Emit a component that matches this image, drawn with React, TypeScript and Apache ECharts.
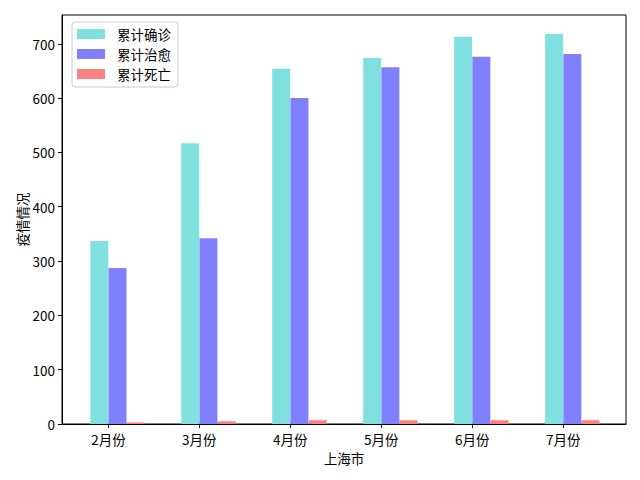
import React, { useEffect, useRef } from "react";
import * as echarts from "echarts";

const categories = ["2月份", "3月份", "4月份", "5月份", "6月份", "7月份"];
const confirmed = [337, 517, 654, 674, 713, 718];
const cured = [287, 342, 600, 657, 676, 681];
const deaths = [3, 5, 7, 7, 7, 7];
const yTicks = [0, 100, 200, 300, 400, 500, 600, 700];
const seriesNames = ["累计确诊", "累计治愈", "累计死亡"];
const colors = ["#80DFDF", "#8080FF", "#FF8080"];
const offsets = [-0.1, 0.1, 0.3];

const FONT = "'Noto Sans CJK SC', sans-serif";

export default function App() {
  const ref = useRef<HTMLDivElement>(null);
  useEffect(() => {
    document.body.style.margin = "0";
    if (!ref.current) return;
    const chart = echarts.init(ref.current, null, { renderer: "svg" });
    const tickIdx = categories.map((_, i) => i);
    const all = [confirmed, cured, deaths];
    chart.setOption({
      animation: false,
      textStyle: { fontFamily: FONT },
      grid: {
        left: 62,
        right: 14,
        top: 15,
        bottom: 56,
        show: true,
        borderColor: "#000",
        borderWidth: 1,
        backgroundColor: "transparent",
      },
      legend: {
        orient: "vertical",
        left: 72,
        top: 22,
        data: seriesNames,
        itemWidth: 28,
        itemHeight: 10,
        itemGap: 6,
        padding: [5, 7, 6, 5],
        borderColor: "#cccccc",
        borderWidth: 1,
        borderRadius: 3,
        backgroundColor: "rgba(255,255,255,0.8)",
        icon: "rect",
        textStyle: {
          fontFamily: FONT,
          fontSize: 13.5,
          lineHeight: 14,
          color: "#000",
          padding: [0, 0, 0, 7],
        },
      },
      xAxis: {
        type: "value",
        min: -0.51,
        max: 5.69,
        name: "上海市",
        nameLocation: "middle",
        nameGap: 27,
        nameMoveOverlap: false,
        nameTextStyle: { fontFamily: FONT, fontSize: 13.5, color: "#000" },
        axisLine: { show: true, onZero: false, lineStyle: { color: "#000", width: 1 } },
        axisTick: {
          show: true,
          inside: false,
          length: 4,
          lineStyle: { color: "#000" },
          customValues: tickIdx,
        },
        axisLabel: {
          show: true,
          margin: 8,
          fontFamily: FONT,
          fontSize: 13.5,
          color: "#000",
          customValues: tickIdx,
          formatter: (v: number) => categories[Math.round(v)] ?? "",
        },
        splitLine: { show: false },
      },
      yAxis: {
        type: "value",
        min: 0,
        max: 753,
        name: "疫情情况",
        nameLocation: "middle",
        nameGap: 33,
        nameMoveOverlap: false,
        nameTextStyle: { fontFamily: FONT, fontSize: 13.5, color: "#000" },
        axisLine: { show: true, onZero: false, lineStyle: { color: "#000", width: 1 } },
        axisTick: {
          show: true,
          inside: false,
          length: 4,
          lineStyle: { color: "#000" },
          customValues: yTicks,
        },
        axisLabel: {
          show: true,
          margin: 7,
          fontFamily: FONT,
          fontSize: 13.5,
          color: "#000",
          customValues: yTicks,
        },
        splitLine: { show: false },
      },
      series: seriesNames.map((name, s) => ({
        name,
        type: "bar",
        barWidth: 18,
        barGap: "-100%",
        itemStyle: { color: colors[s] },
        data: all[s].map((v, i) => [i + offsets[s], v]),
      })),
    });
    return () => chart.dispose();
  }, []);
  return <div ref={ref} style={{ width: 640, height: 480 }} />;
}
